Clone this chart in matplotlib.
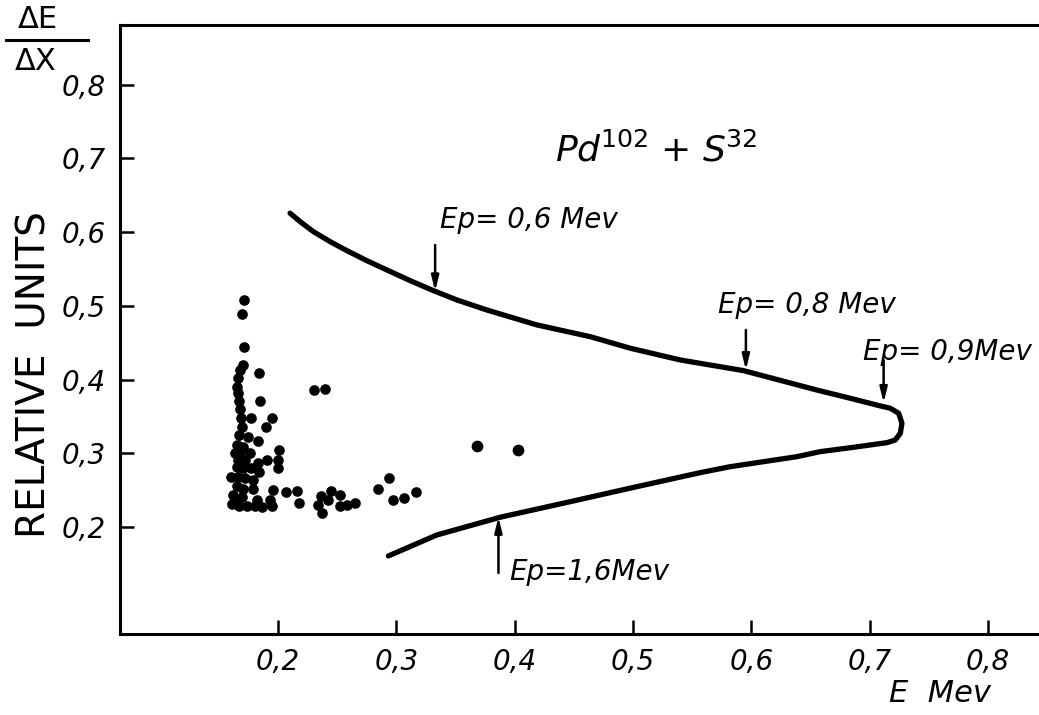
import matplotlib.pyplot as plt
from matplotlib.lines import Line2D

# event points (E, dE/dx)
pts_e = [0.1713, 0.1698, 0.1713, 0.1707, 0.1679, 0.1837, 0.1664, 0.1656, 0.1662, 0.1668,
         0.1848, 0.1679, 0.1685, 0.1769, 0.1947, 0.1693, 0.1896, 0.1673, 0.1749, 0.1833,
         0.1651, 0.1707, 0.2008, 0.1637, 0.1679, 0.1763, 0.1664, 0.1721, 0.1833, 0.1910,
         0.2003, 0.1651, 0.1707, 0.1769, 0.2003, 0.1842, 0.1600, 0.1664, 0.1721, 0.1786,
         0.1651, 0.1707, 0.1791, 0.1955, 0.2068, 0.2158, 0.1617, 0.1693, 0.1820, 0.1932,
         0.1645, 0.2180, 0.1609, 0.1673, 0.1735, 0.1806, 0.1862, 0.1947,
         0.2304, 0.2397, 0.2363, 0.2445, 0.2524, 0.2341, 0.2425, 0.2369, 0.2524, 0.2586,
         0.2651, 0.2848, 0.2941, 0.2970, 0.3065, 0.3167]
pts_dedx = [0.508, 0.489, 0.444, 0.420, 0.413, 0.409, 0.402, 0.390, 0.382, 0.371,
            0.371, 0.360, 0.348, 0.348, 0.348, 0.336, 0.335, 0.325, 0.322, 0.316,
            0.311, 0.309, 0.304, 0.300, 0.302, 0.301, 0.291, 0.291, 0.287, 0.291,
            0.291, 0.282, 0.280, 0.280, 0.280, 0.275, 0.268, 0.268, 0.266, 0.264,
            0.255, 0.251, 0.251, 0.250, 0.247, 0.249, 0.243, 0.241, 0.237, 0.237,
            0.237, 0.233, 0.231, 0.228, 0.228, 0.228, 0.227, 0.228,
            0.386, 0.387, 0.242, 0.249, 0.244, 0.230, 0.237, 0.219, 0.228, 0.230,
            0.233, 0.252, 0.266, 0.237, 0.239, 0.248]
big_e = [0.368, 0.4031]
big_dedx = [0.310, 0.304]

# calculated curve
curve_e = [0.2101, 0.2186, 0.2298, 0.2440, 0.2581, 0.2750, 0.2919, 0.3116, 0.3313, 0.3511,
           0.3764, 0.4187, 0.4637, 0.4976, 0.5398, 0.5933, 0.6550, 0.6835, 0.7089, 0.7173,
           0.7244, 0.7272, 0.7258, 0.7215, 0.7145, 0.6863, 0.6581, 0.6385, 0.5821, 0.5567,
           0.5032, 0.4468, 0.3877, 0.3341, 0.2932]
curve_dedx = [0.6257, 0.6143, 0.6007, 0.5871, 0.5749, 0.5613, 0.5487, 0.5342, 0.5206, 0.5080,
              0.4944, 0.4741, 0.4582, 0.4425, 0.4266, 0.4121, 0.3859, 0.3746, 0.3642, 0.3611,
              0.3543, 0.3407, 0.3271, 0.3180, 0.3144, 0.3081, 0.3022, 0.2954, 0.2818, 0.2737,
              0.2547, 0.2343, 0.2132, 0.1891, 0.1607]

# proton energy marks on the curve
ep_labels = ['Ep= 0,6 Mev', 'Ep= 0,8 Mev', 'Ep= 0,9Mev', 'Ep=1,6Mev']
ep_tip_e = [0.3327, 0.5953, 0.7117, 0.3862]
ep_tip_dedx = [0.5197, 0.4130, 0.3683, 0.2136]
ep_tail_dedx = [0.5826, 0.4673, 0.4266, 0.1376]
ep_text_e = [0.337, 0.572, 0.694, 0.395]
ep_text_dedx = [0.617, 0.501, 0.437, 0.139]

xticks = [0.2, 0.3, 0.4, 0.5, 0.6, 0.7, 0.8]
yticks = [0.2, 0.3, 0.4, 0.5, 0.6, 0.7, 0.8]
tick_labels = ['0,2', '0,3', '0,4', '0,5', '0,6', '0,7', '0,8']

fig = plt.figure(figsize=(10.39, 7.15), dpi=100)
ax = fig.add_axes([0.1155, 0.1133, 0.8845, 0.8517])

ax.plot(curve_e, curve_dedx, color='black', linewidth=3.8,
        solid_capstyle='round', solid_joinstyle='round')
ax.scatter(pts_e, pts_dedx, s=44, color='black', zorder=3)
ax.scatter(big_e, big_dedx, s=55, color='black', zorder=3)

for lab, tx, ty, ay, tt, tdy in zip(ep_labels, ep_tip_e, ep_tip_dedx, ep_tail_dedx,
                                     ep_text_e, ep_text_dedx):
    ax.annotate('', xy=(tx, ty), xytext=(tx, ay),
                arrowprops=dict(arrowstyle='-|>,head_length=0.9,head_width=0.22',
                                color='black', lw=1.8, shrinkA=0, shrinkB=0))
    ax.text(tt, tdy, lab, fontsize=20, style='italic', ha='left', va='center')

ax.set_xlim(0.0664, 0.843)
ax.set_ylim(0.0548, 0.881)
ax.set_xticks(xticks)
ax.set_xticklabels(tick_labels)
ax.set_yticks(yticks)
ax.set_yticklabels(tick_labels)
ax.tick_params(direction='in', length=10, width=1.8, labelsize=20, pad=10)
for lbl in ax.get_xticklabels() + ax.get_yticklabels():
    lbl.set_style('italic')
for side in ['left', 'bottom', 'top']:
    ax.spines[side].set_linewidth(2.2)
ax.spines['right'].set_visible(False)

fig.text(555 / 1039, 1 - 150 / 715, r'Pd$^{102}$ + S$^{32}$', fontsize=26,
         style='italic', ha='left', va='center')
fig.text(35 / 1039, 1 - 375 / 715, 'RELATIVE  UNITS', fontsize=28, rotation=90,
         ha='center', va='center')
fig.text(940 / 1039, 1 - 693 / 715, 'E  Mev', fontsize=22, style='italic',
         ha='center', va='center')
fig.text(38 / 1039, 1 - 19 / 715, 'ΔE', fontsize=22, ha='center', va='center')
fig.text(36 / 1039, 1 - 62 / 715, 'ΔX', fontsize=22, ha='center', va='center')
fig.add_artist(Line2D([6 / 1039, 88 / 1039], [1 - 40 / 715, 1 - 40 / 715],
                      color='black', linewidth=2.2, transform=fig.transFigure))

fig.savefig('out.png', dpi=100)
